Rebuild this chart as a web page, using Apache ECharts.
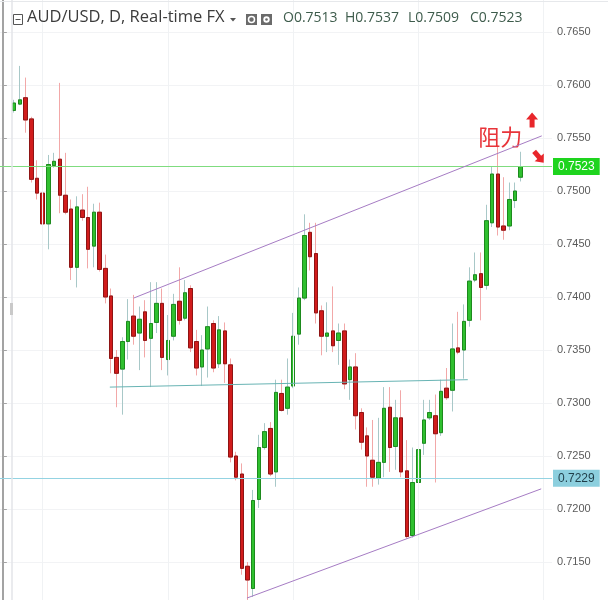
<!DOCTYPE html>
<html><head><meta charset="utf-8">
<script src="https://cdn.jsdelivr.net/npm/echarts@6/dist/echarts.min.js"></script>
<style>html,body{margin:0;padding:0;background:#fff;overflow:hidden;width:608px;height:600px}
#c{position:absolute;left:0;top:-21px;width:608px;height:636px}</style>
</head><body><div id="c"></div>
<script>
// Daily AUD/USD candles (oldest -> newest)
const opens = [.7576,.7582,.7588,.7568,.7512,.7498,.7469,.7524,.7530,.7496,
.7483,.7428,.7482,.7475,.7448,.7480,.7427,.7401,.7343,.7332,
.7358,.7382,.7366,.7386,.7361,.7376,.7394,.7341,.7363,.7396,
.7380,.7408,.7358,.7334,.7351,.7375,.7337,.7368,.7336,.7250,
.7233,.7146,.7125,.7209,.7258,.7276,.7235,.7309,.7295,.7316,
.7365,.7399,.7461,.7441,.7387,.7363,.7368,.7359,.7368,.7322,
.7334,.7291,.7269,.7246,.7229,.7244,.7296,.7259,.7286,.7236,
.7175,.7225,.7262,.7286,.7288,.7272,.7314,.7312,.7352,.7350,
.7378,.7416,.7422,.7411,.7470,.7516,.7467,.7467,.7491,.7513];
const closes = [.7583,.7586,.7567,.7511,.7498,.7469,.7525,.7528,.7496,.7480,
.7428,.7485,.7475,.7445,.7480,.7426,.7400,.7342,.7328,.7358,
.7377,.7363,.7379,.7359,.7375,.7394,.7343,.7359,.7393,.7378,
.7404,.7352,.7333,.7350,.7372,.7333,.7369,.7337,.7249,.7230,
.7144,.7133,.7208,.7258,.7273,.7233,.7310,.7293,.7315,.7363,
.7399,.7458,.7438,.7385,.7363,.7366,.7354,.7366,.7318,.7334,
.7288,.7263,.7250,.7230,.7244,.7295,.7258,.7286,.7235,.7174,
.7225,.7256,.7284,.7291,.7271,.7311,.7305,.7351,.7348,.7377,
.7415,.7421,.7409,.7472,.7516,.7466,.7463,.7492,.7500,.7523];
const highs = [.7586,.7618,.7607,.7570,.7529,.7508,.7534,.7536,.7602,.7536,
.7492,.7495,.7497,.7504,.7488,.7489,.7440,.7408,.7350,.7362,
.7398,.7402,.7391,.7397,.7414,.7414,.7408,.7383,.7403,.7428,
.7416,.7411,.7369,.7364,.7391,.7378,.7382,.7376,.7342,.7254,
.7243,.7150,.7218,.7270,.7281,.7282,.7322,.7322,.7342,.7385,
.7409,.7478,.7470,.7470,.7392,.7395,.7410,.7375,.7375,.7341,
.7347,.7295,.7277,.7284,.7286,.7315,.7315,.7303,.7312,.7265,
.7258,.7265,.7303,.7303,.7308,.7322,.7333,.7375,.7386,.7393,
.7428,.7442,.7442,.7487,.7523,.7543,.7513,.7508,.7508,.7537];
const lows = [.7574,.7581,.7555,.7508,.7492,.7458,.7445,.7522,.7479,.7478,
.7416,.7409,.7472,.7427,.7428,.7424,.7394,.7328,.7296,.7289,
.7341,.7355,.7331,.7343,.7315,.7366,.7331,.7326,.7359,.7374,
.7378,.7348,.7326,.7316,.7324,.7329,.7333,.7319,.7244,.7227,
.7138,.7114,.7117,.7201,.7256,.7231,.7221,.7292,.7289,.7314,
.7355,.7397,.7425,.7375,.7345,.7348,.7348,.7336,.7313,.7303,
.7275,.7256,.7221,.7221,.7223,.7230,.7235,.7237,.7230,.7172,
.7173,.7192,.7251,.7284,.7225,.7269,.7303,.7292,.7346,.7323,
.7372,.7414,.7378,.7407,.7466,.7458,.7454,.7463,.7484,.7509];
const yTicks = {min: 0.7100, max: 0.7700, step: 0.005};
const lastPrice = 0.7523;
const supportPrice = 0.7229;
// drawn lines: [slot index, price]
const upperTrend = [[23, 0.7399], [94.7, 0.7552]];
const lowerTrend = [[42.9, 0.7116], [94.6, 0.7219]];
const neckLine = [[18.8, 0.7315], [81.7, 0.7322]];
const vGrid = [7, 29, 51, 73, 95];
const note = {text: '阻力', at: [87.4, 0.7551]};
const arrowUp = [93.0, 0.7567];
const arrowDown = [94.2, 0.7532];
const header = {title: 'AUD/USD, D, Real-time FX', o: 'O0.7513', h: 'H0.7537', l: 'L0.7509', c: 'C0.7523'};

const LEAD = 2, SLOTS = 97;
const cats = [];
for (let i = 0; i < SLOTS; i++) cats.push(String(i));
const full = [], body = [];
for (let i = 0; i < LEAD; i++) { full.push('-'); body.push('-'); }
opens.forEach((o, i) => {
  const c = closes[i];
  full.push([o, c, lows[i], highs[i]]);
  body.push([o, c, Math.min(o, c), Math.max(o, c)]);
});

const OFF = 21; // chart canvas starts 21px above the page top
const arrowPath = 'path://M6,0 L12,7 L8.5,7 L8.5,15 L3.5,15 L3.5,7 L0,7 Z';
const chart = echarts.init(document.getElementById('c'), null, {renderer: 'canvas'});
const hdrFont = '"Open Sans", sans-serif';
const ohlcColor = '#3e5c4c';
const lblFont = '"Liberation Sans", Arial, sans-serif';
function priceLine(v, lineColor, bg, fg) {
  return {
    type: 'line', xAxisIndex: 1, data: [], z: 2, silent: true,
    markLine: {silent: true, symbol: ['none', 'none'], animation: false, precision: 4,
      lineStyle: {color: lineColor, width: 1, type: 'solid', opacity: 1},
      label: {show: true, position: 'end', distance: 1, formatter: v.toFixed(4),
        backgroundColor: bg, color: fg, padding: [3, 5, 2, 5], fontSize: 12, fontFamily: lblFont},
      emphasis: {disabled: true},
      data: [{yAxis: v}]}
  };
}
chart.setOption({
  animation: false,
  backgroundColor: '#ffffff',
  grid: {left: 0, right: 56, top: 0, bottom: 0, containLabel: false, outerBoundsMode: 'none'},
  xAxis: [
    {type: 'category', data: cats, boundaryGap: true, show: false},
    {type: 'value', min: -0.5, max: SLOTS - 0.5, show: false}
  ],
  yAxis: {
    type: 'value', position: 'right', min: yTicks.min, max: yTicks.max, interval: yTicks.step,
    axisLine: {show: true, lineStyle: {color: '#a3a3a3', width: 2}},
    axisTick: {show: true, length: 4, lineStyle: {color: '#a3a3a3'}},
    axisLabel: {color: '#5a5a5a', fontSize: 11, margin: 5, fontFamily: lblFont,
      showMinLabel: false, showMaxLabel: false,
      formatter: v => v.toFixed(4)},
    splitLine: {show: true, lineStyle: {color: '#f2f3f5', width: 1}}
  },
  series: [
    {
      type: 'line', xAxisIndex: 1, data: [], z: 1, silent: true,
      markLine: {silent: true, symbol: ['none', 'none'], animation: false, precision: 2,
        lineStyle: {color: '#f0f2f4', width: 1, type: 'solid'}, label: {show: false},
        data: vGrid.map(v => ({xAxis: v}))}
    },
    priceLine(lastPrice, '#7fdc7f', '#1ed41e', '#ffffff'),
    priceLine(supportPrice, '#94d3e2', '#8ccfde', '#1f3d48'),
    {
      name: 'wick', type: 'candlestick', data: full, barWidth: 4, z: 3, silent: true,
      itemStyle: {color: '#a8c8c8', color0: '#f2a8a8', borderColor: '#a8c8c8', borderColor0: '#f2a8a8', borderWidth: 1}
    },
    {
      name: 'body', type: 'candlestick', data: body, barWidth: 4, z: 4, silent: true,
      itemStyle: {color: '#2fc02f', color0: '#d11c1c', borderColor: '#1d8a1d', borderColor0: '#8e1414', borderWidth: 1}
    },
    {type: 'line', xAxisIndex: 1, data: upperTrend, z: 5, symbol: 'none', silent: true,
      lineStyle: {color: '#a67cc4', width: 1}},
    {type: 'line', xAxisIndex: 1, data: lowerTrend, z: 5, symbol: 'none', silent: true,
      lineStyle: {color: '#a67cc4', width: 1}},
    {type: 'line', xAxisIndex: 1, data: neckLine, z: 5, symbol: 'none', silent: true,
      lineStyle: {color: '#68b4b4', width: 1}},
    {
      type: 'line', xAxisIndex: 1, data: [], z: 6, silent: true,
      markPoint: {silent: true, animation: false,
        data: [
          {coord: note.at, symbol: 'rect', symbolSize: 1, itemStyle: {color: 'rgba(0,0,0,0)'},
           label: {show: true, position: 'inside', formatter: note.text, fontSize: 22, color: '#e8343a',
             fontFamily: '"Noto Sans CJK SC", sans-serif'}},
          {coord: arrowUp, symbol: arrowPath, symbolSize: [12, 15], itemStyle: {color: '#e8262b'}, label: {show: false}},
          {coord: arrowDown, symbol: arrowPath, symbolSize: [12, 15], symbolRotate: -140, itemStyle: {color: '#e8262b'}, label: {show: false}}
        ]}
    }
  ],
  graphic: [
    {type: 'line', shape: {x1: 0, y1: OFF + 1.5, x2: 608, y2: OFF + 1.5}, style: {stroke: '#e6e8eb', lineWidth: 1}, z: 10},
    {type: 'line', shape: {x1: 12, y1: 0, x2: 12, y2: 636}, style: {stroke: '#e3e5e8', lineWidth: 1.5}, z: 10},
    {type: 'rect', shape: {x: 10, y: OFF + 303, width: 3, height: 12}, style: {fill: '#c9c9c9'}, z: 10},
    {type: 'rect', shape: {x: 13.5, y: OFF + 14.5, width: 9, height: 10}, style: {fill: 'none', stroke: '#555', lineWidth: 1}, z: 10},
    {type: 'line', shape: {x1: 15.5, y1: OFF + 19.5, x2: 20.5, y2: OFF + 19.5}, style: {stroke: '#555', lineWidth: 1}, z: 10},
    {type: 'text', left: 27, top: OFF + 9, style: {text: header.title, fontSize: 16.5, fill: '#3c3c3c', fontFamily: hdrFont}, z: 10},
    {type: 'polygon', shape: {points: [[230, OFF + 18], [236, OFF + 18], [233, OFF + 21.5]]}, style: {fill: '#555'}, z: 10},
    {type: 'rect', shape: {x: 246, y: OFF + 14, width: 11, height: 11}, style: {fill: '#6b6b6b'}, z: 10},
    {type: 'circle', shape: {cx: 251.5, cy: OFF + 19.5, r: 3}, style: {fill: 'none', stroke: '#fff', lineWidth: 1.5}, z: 11},
    {type: 'rect', shape: {x: 261, y: OFF + 14, width: 11, height: 11}, style: {fill: '#6b6b6b'}, z: 10},
    {type: 'circle', shape: {cx: 266.5, cy: OFF + 19.5, r: 3.2}, style: {fill: '#fff'}, z: 11},
    {type: 'circle', shape: {cx: 266.5, cy: OFF + 19.5, r: 1.3}, style: {fill: '#6b6b6b'}, z: 12},
    {type: 'text', left: 283, top: OFF + 11, style: {text: header.o, fontSize: 14, fill: ohlcColor, fontFamily: hdrFont}, z: 10},
    {type: 'text', left: 345, top: OFF + 11, style: {text: header.h, fontSize: 14, fill: ohlcColor, fontFamily: hdrFont}, z: 10},
    {type: 'text', left: 408, top: OFF + 11, style: {text: header.l, fontSize: 14, fill: ohlcColor, fontFamily: hdrFont}, z: 10},
    {type: 'text', left: 470, top: OFF + 11, style: {text: header.c, fontSize: 14, fill: ohlcColor, fontFamily: hdrFont}, z: 10}
  ]
});
</script></body></html>
